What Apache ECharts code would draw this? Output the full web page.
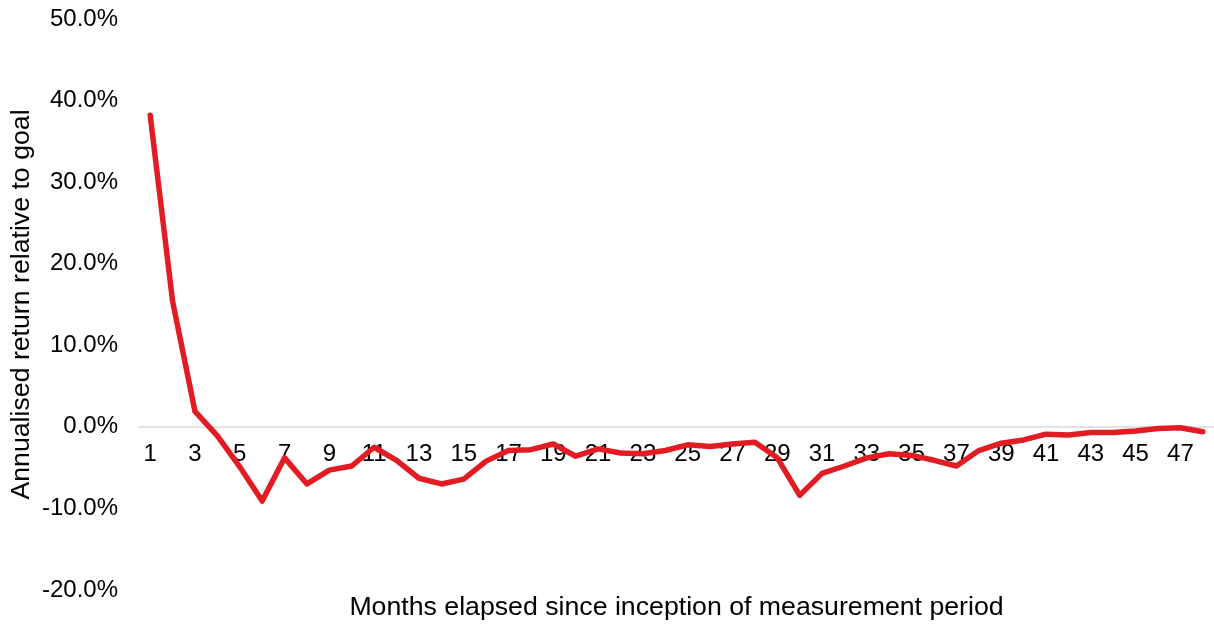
<!DOCTYPE html>
<html>
<head>
<meta charset="utf-8">
<style>
  html, body { margin: 0; padding: 0; background: #ffffff; }
  #chart { width: 1214px; height: 626px; }
</style>
<script src="https://cdn.jsdelivr.net/npm/echarts@6/dist/echarts.min.js"></script>
</head>
<body>
<div id="chart"></div>
<script>
// Months since inception (1..48)
const months = Array.from({ length: 48 }, (_, i) => String(i + 1));

// Annualised return relative to goal, in percent, per month elapsed
const relativeReturn = [
  38.2, 15.4, 1.9, -1.1, -4.9, -9.1, -3.8, -7.0, -5.3, -4.8,
  -2.5, -4.1, -6.3, -7.0, -6.4, -4.2, -2.9, -2.8, -2.1, -3.6,
  -2.7, -3.2, -3.3, -2.9, -2.2, -2.4, -2.1, -1.9, -3.8, -8.4,
  -5.7, -4.8, -3.8, -3.3, -3.5, -4.1, -4.8, -2.9, -2.0, -1.6,
  -0.9, -1.0, -0.7, -0.7, -0.5, -0.2, -0.1, -0.6
];

// Value axis range and step, in percent
const yMin = -20;
const yMax = 50;
const yStep = 10;

const xTitle = 'Months elapsed since inception of measurement period';
const yTitle = 'Annualised return relative to goal';

const FONT = '"Liberation Sans", Arial, sans-serif';

// Plot area
const W = 1214, H = 626;
const gridLeft = 139, gridRight = 0, gridTop = 19, gridBottom = 36;
const plotHeight = H - gridTop - gridBottom;
// Raise the category axis (line and labels) up to the 0% level
const zeroOffset = -plotHeight * (0 - yMin) / (yMax - yMin);

const chart = echarts.init(document.getElementById('chart'), null, { renderer: 'canvas' });

chart.setOption({
  animation: false,
  backgroundColor: '#ffffff',
  grid: {
    left: gridLeft, right: gridRight, top: gridTop, bottom: gridBottom,
    containLabel: false,
    outerBoundsMode: 'none'
  },
  xAxis: {
    type: 'category',
    data: months,
    boundaryGap: true,
    position: 'bottom',
    offset: zeroOffset,
    axisLine: { onZero: false, lineStyle: { color: '#d9d9d9', width: 1.5 } },
    axisTick: { show: false },
    axisLabel: {
      interval: 1,
      margin: 16,
      color: '#000000',
      fontSize: 24,
      fontFamily: FONT
    },
    splitLine: { show: false }
  },
  yAxis: {
    type: 'value',
    min: yMin,
    max: yMax,
    interval: yStep,
    axisLine: { show: false },
    axisTick: { show: false },
    splitLine: { show: false },
    axisLabel: {
      margin: 21,
      color: '#000000',
      fontSize: 24,
      fontFamily: FONT,
      formatter: v => v.toFixed(1) + '%'
    }
  },
  graphic: [{
    // value axis title, rotated to read bottom-to-top
    type: 'text',
    x: 22,
    y: gridTop + plotHeight / 2,
    rotation: Math.PI / 2,
    style: {
      text: yTitle,
      fill: '#000000',
      font: '26.7px ' + FONT,
      align: 'center',
      verticalAlign: 'middle'
    }
  }, {
    type: 'text',
    x: gridLeft + (W - gridLeft - gridRight) / 2,
    y: 608,
    style: {
      text: xTitle,
      fill: '#000000',
      font: '26.7px ' + FONT,
      align: 'center',
      verticalAlign: 'middle'
    }
  }],
  series: [{
    type: 'line',
    data: relativeReturn,
    showSymbol: false,
    symbol: 'none',
    smooth: false,
    lineStyle: { color: '#e31b23', width: 5.5, cap: 'round', join: 'round' },
    itemStyle: { color: '#e31b23' }
  }]
});
</script>
</body>
</html>
